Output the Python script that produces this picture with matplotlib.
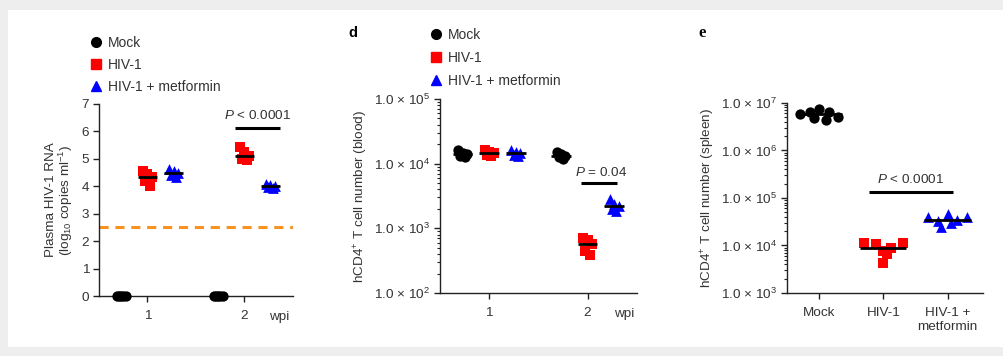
import numpy as np
import matplotlib
matplotlib.use("Agg")
import matplotlib.pyplot as plt
from matplotlib.patches import Rectangle
from matplotlib.ticker import LogLocator, FixedLocator, FixedFormatter, NullFormatter

plt.rcParams['font.family'] = ['Liberation Sans', 'DejaVu Sans']
plt.rcParams['mathtext.fontset'] = 'custom'
plt.rcParams['mathtext.rm'] = 'Liberation Sans'
plt.rcParams['mathtext.it'] = 'Liberation Sans:italic'
plt.rcParams['mathtext.bf'] = 'Liberation Sans:bold'

# ---------------- data ----------------
groups = ["Mock", "HIV-1", "HIV-1 + metformin"]
weeks = [1, 2]

# panel c: plasma HIV-1 RNA (log10 copies/ml)
c_mock_w1 = [0, 0, 0, 0, 0]
c_hiv_w1 = [4.55, 4.45, 4.35, 4.2, 4.0]
c_met_w1 = [4.62, 4.55, 4.5, 4.42, 4.35]
c_mock_w2 = [0, 0, 0, 0, 0]
c_hiv_w2 = [5.45, 5.25, 5.1, 5.0, 4.97]
c_met_w2 = [4.1, 4.05, 4.02, 3.97, 3.93]
c_detect_limit = 2.5

# panel d: hCD4+ T cells (blood)
d_mock_w1 = [1.6e4, 1.45e4, 1.4e4, 1.3e4, 1.25e4]
d_hiv_w1 = [1.6e4, 1.5e4, 1.45e4, 1.35e4, 1.3e4]
d_met_w1 = [1.6e4, 1.5e4, 1.45e4, 1.35e4, 1.3e4]
d_mock_w2 = [1.5e4, 1.4e4, 1.3e4, 1.25e4, 1.2e4]
d_hiv_w2 = [700, 650, 580, 450, 390]
d_met_w2 = [2800, 2400, 2200, 2000, 1850]

# panel e: hCD4+ T cells (spleen)
e_labels = ["Mock", "HIV-1", "HIV-1 +\nmetformin"]
e_mock = [7.5e6, 6.5e6, 6.5e6, 5.8e6, 5.0e6, 4.8e6, 4.4e6]
e_hiv = [1.15e4, 1.15e4, 1.05e4, 9.0e3, 7.5e3, 6.5e3, 4.2e3]
e_met = [4.7e4, 4.0e4, 4.0e4, 3.5e4, 3.2e4, 2.9e4, 2.4e4]

c_pval = r"$P$ < 0.0001"
d_pval = r"$P$ = 0.04"
e_pval = r"$P$ < 0.0001"

# ---------------- style ----------------
colors = ["black", "#ff0000", "#0000ff"]
markers = ["o", "s", "^"]
msizes = [55, 50, 60]
TXT = "#333333"
SP = "#222222"
FS = 9.7
gap = 0.27  # group offset within a week
# horizontal swarm offsets for panel e (per point, in category units)
e_offsets = [
    [0.0, -0.15, 0.15, -0.3, 0.3, -0.08, 0.1],
    [-0.3, 0.3, -0.12, 0.12, 0.0, 0.05, 0.0],
    [0.0, -0.3, 0.3, 0.15, -0.15, 0.05, -0.1],
]

fig = plt.figure(figsize=(10.04, 3.56), dpi=100)
fig.patch.set_facecolor("#eeeeee")
fig.patches.append(Rectangle((0.008, 0.0253), 0.992, 0.9466, transform=fig.transFigure,
                             facecolor="white", edgecolor="none", zorder=-10))


def style_axes(ax):
    for s in ["top", "right"]:
        ax.spines[s].set_visible(False)
    for s in ["left", "bottom"]:
        ax.spines[s].set_color(SP)
        ax.spines[s].set_linewidth(1.0)
    ax.tick_params(axis="both", which="major", direction="out", length=4, width=1.0,
                   colors=SP, labelcolor=TXT, labelsize=FS, pad=3)
    ax.tick_params(axis="x", which="major", pad=6)
    ax.tick_params(axis="both", which="minor", direction="out", length=2.5, width=0.8, colors=SP)
    ax.set_facecolor("none")


def jitter(n, spread):
    return np.linspace(-spread, spread, n)[np.argsort(np.arange(n) % 2)] if n > 1 else np.zeros(1)


def plot_group(ax, x, vals, gi, spread, half, log=False, offsets=None):
    vals = np.asarray(vals, dtype=float)
    off = np.asarray(offsets) if offsets is not None else jitter(len(vals), spread)
    ax.scatter(x + off, vals, s=msizes[gi], marker=markers[gi], color=colors[gi],
               edgecolors=colors[gi], linewidths=0, zorder=3, clip_on=False)
    if np.all(vals == 0):
        return
    med = np.exp(np.median(np.log(vals))) if log else np.median(vals)
    ax.hlines(med, x - half, x + half, color="black", lw=2.0, zorder=4)


# ---------------- panel c ----------------
ax1 = fig.add_axes([0.0986, 0.1685, 0.193, 0.5394])
style_axes(ax1)
c_sets = [[c_mock_w1, c_hiv_w1, c_met_w1], [c_mock_w2, c_hiv_w2, c_met_w2]]
for wi, w in enumerate(weeks):
    for gi in range(3):
        plot_group(ax1, w + (gi - 1) * gap, c_sets[wi][gi], gi, 0.045, 0.1)
ax1.axhline(c_detect_limit, color="#f7931e", lw=2.2, ls=(0, (3, 2.2)), zorder=2)
ax1.set_xlim(0.5, 2.5)
ax1.set_ylim(0, 7)
ax1.set_yticks(range(0, 8))
ax1.set_xticks(weeks)
ax1.set_xticklabels([str(w) for w in weeks])
ax1.set_ylabel("Plasma HIV-1 RNA\n(log$_{10}$ copies ml$^{-1}$)", fontsize=FS, color=TXT,
               labelpad=5, linespacing=1.0)
ax1.hlines(6.12, 1.9, 2.37, color="black", lw=2.2, clip_on=False)
ax1.text(2.14, 6.35, c_pval, fontsize=FS, color=TXT, ha="center", va="bottom")
ax1.text(2.36, -0.55, "wpi", fontsize=FS, color=TXT, ha="center", va="top")

# ---------------- panel d ----------------
ax2 = fig.add_axes([0.4382, 0.177, 0.196, 0.545])
style_axes(ax2)
d_sets = [[d_mock_w1, d_hiv_w1, d_met_w1], [d_mock_w2, d_hiv_w2, d_met_w2]]
ax2.set_yscale("log")
for wi, w in enumerate(weeks):
    for gi in range(3):
        plot_group(ax2, w + (gi - 1) * gap, d_sets[wi][gi], gi, 0.045, 0.1, log=True)
ax2.set_xlim(0.5, 2.5)
ax2.set_ylim(1e2, 1e5)
ax2.yaxis.set_major_locator(FixedLocator([1e2, 1e3, 1e4, 1e5]))
ax2.yaxis.set_major_formatter(FixedFormatter([r"1.0 $\times$ 10$^{%d}$" % k for k in [2, 3, 4, 5]]))
ax2.yaxis.set_minor_locator(LogLocator(base=10, subs=np.arange(2, 10)))
ax2.yaxis.set_minor_formatter(NullFormatter())
ax2.set_xticks(weeks)
ax2.set_xticklabels([str(w) for w in weeks])
ax2.set_ylabel("hCD4$^{+}$ T cell number (blood)", fontsize=FS, color=TXT, labelpad=3)
ax2.hlines(5000, 1.93, 2.3, color="black", lw=2.2)
ax2.text(2.14, 5800, d_pval, fontsize=FS, color=TXT, ha="center", va="bottom")
ax2.text(2.37, 10 ** 1.765, "wpi", fontsize=FS, color=TXT, ha="center", va="top")

# ---------------- panel e ----------------
ax3 = fig.add_axes([0.7839, 0.177, 0.195, 0.534])
style_axes(ax3)
ax3.set_yscale("log")
for gi, vals in enumerate([e_mock, e_hiv, e_met]):
    plot_group(ax3, gi, vals, gi, 0.26, 0.36, log=True, offsets=e_offsets[gi])
ax3.set_xlim(-0.5, 2.55)
ax3.set_ylim(1e3, 1e7)
ax3.yaxis.set_major_locator(FixedLocator([1e3, 1e4, 1e5, 1e6, 1e7]))
ax3.yaxis.set_major_formatter(FixedFormatter([r"1.0 $\times$ 10$^{%d}$" % k for k in [3, 4, 5, 6, 7]]))
ax3.yaxis.set_minor_locator(LogLocator(base=10, subs=np.arange(2, 10)))
ax3.yaxis.set_minor_formatter(NullFormatter())
ax3.set_xticks(range(3))
ax3.set_xticklabels(e_labels, linespacing=1.25)
ax3.set_ylabel("hCD4$^{+}$ T cell number (spleen)", fontsize=FS, color=TXT, labelpad=3)
ax3.hlines(1.35e5, 0.77, 2.09, color="black", lw=2.2)
ax3.text(1.42, 1.75e5, e_pval, fontsize=FS, color=TXT, ha="center", va="bottom")

# ---------------- legends ----------------
handles = [plt.Line2D([], [], ls="none", marker=markers[i], color=colors[i], markersize=7)
           for i in range(3)]
fig.legend(handles, groups, loc="upper left", bbox_to_anchor=(0.0905, 0.898), frameon=False,
           fontsize=10, handlelength=0.7, handletextpad=0.5, labelspacing=0.56,
           borderpad=0, borderaxespad=0, labelcolor=TXT)
fig.legend(handles, groups, loc="upper left", bbox_to_anchor=(0.4295, 0.922), frameon=False,
           fontsize=10, handlelength=0.7, handletextpad=0.5, labelspacing=0.65,
           borderpad=0, borderaxespad=0, labelcolor=TXT)

# panel letters
fig.text(0.3515, 0.907, "d", fontsize=10.5, fontweight="bold", color="black", ha="center", va="center")
fig.text(0.699, 0.907, "e", fontsize=12, fontweight="bold", color="black", ha="center", va="center",
         family="Liberation Serif")

fig.savefig("out.png", dpi=100, facecolor=fig.get_facecolor())
